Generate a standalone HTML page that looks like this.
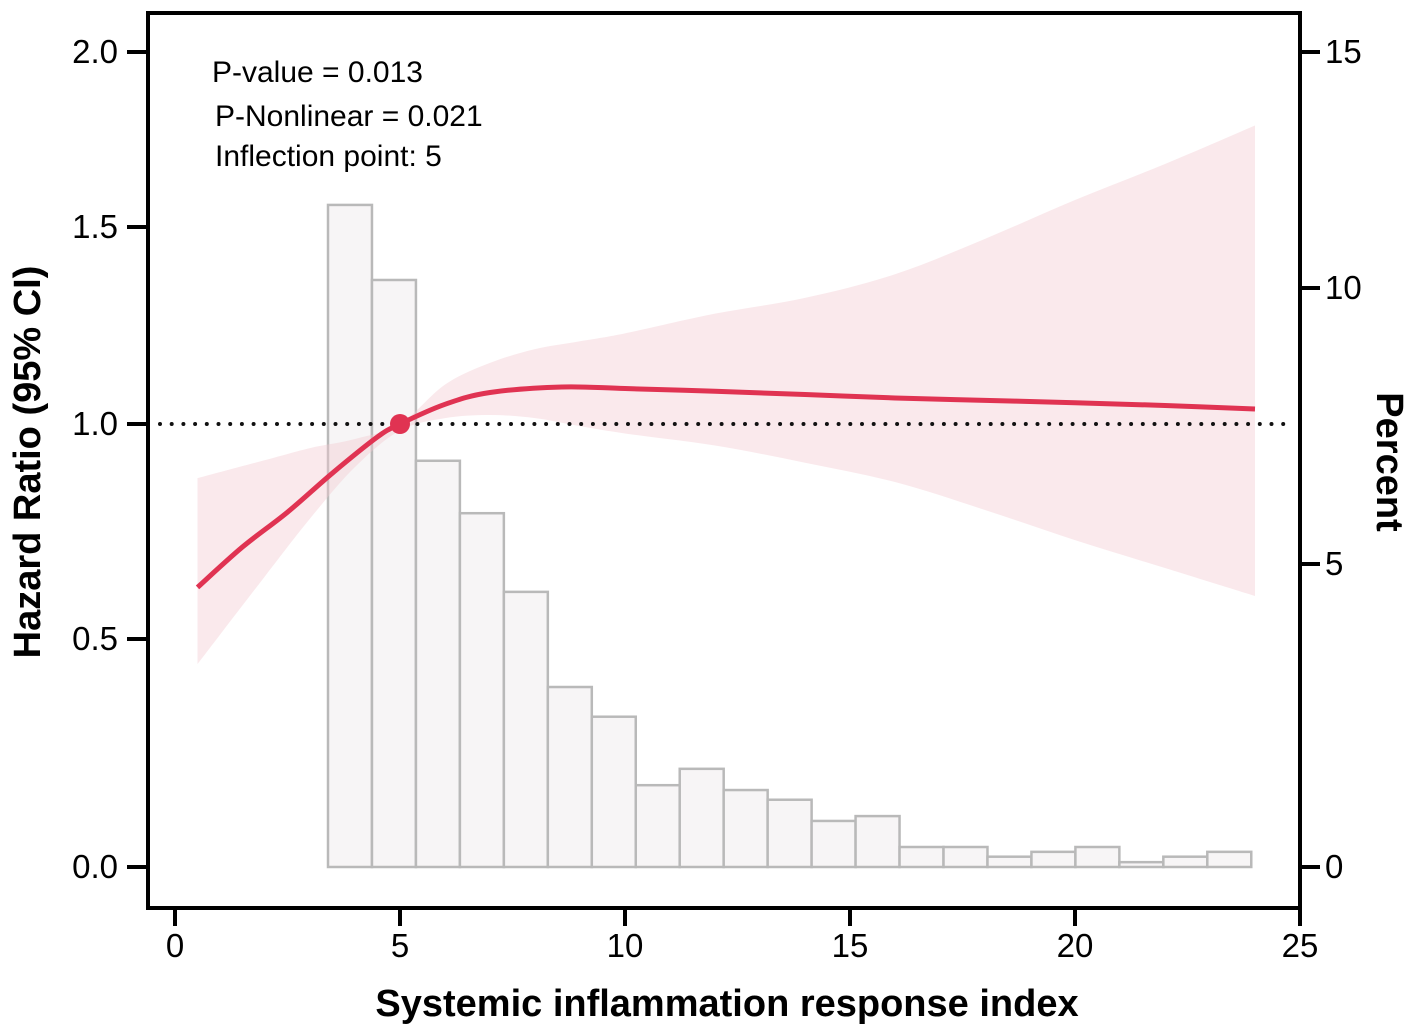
<!DOCTYPE html>
<html><head><meta charset="utf-8"><style>
html,body{margin:0;padding:0;background:#fff;}
svg text{font-family:"Liberation Sans",Arial,sans-serif;}
</style></head><body>
<svg id="chart" width="1417" height="1036" viewBox="0 0 1417 1036" xmlns="http://www.w3.org/2000/svg" style="position:absolute;left:0;top:0">
<g id="layers"></g>
<text x="212" y="82" font-size="30">P-value = 0.013</text>
<text x="215" y="126" font-size="30">P-Nonlinear = 0.021</text>
<text x="215" y="166" font-size="30">Inflection point: 5</text>
<text x="727" y="1016" font-size="38" font-weight="bold" text-anchor="middle">Systemic inflammation response index</text>
<text transform="translate(40,462) rotate(-90)" font-size="38" font-weight="bold" text-anchor="middle">Hazard Ratio (95% CI)</text>
<text transform="translate(1377,462) rotate(90)" font-size="38" font-weight="bold" text-anchor="middle">Percent</text>
</svg>
<script>
const hrTicks=[0,0.5,1,1.5,2];
const hrTickPx=[867,639,424,227,52];
const pctTicks=[0,5,10,15];
const pctTickPx=[867,564,288,52];
const xTicks=[0,5,10,15,20,25];
const barStart=3.4, barWidth=0.977;
const barPercents=[11.76,10.17,6.87,5.92,4.54,2.97,2.48,1.35,1.62,1.27,1.11,0.76,0.84,0.33,0.33,0.17,0.25,0.33,0.08,0.17,0.25];
const curveX=[0.5,1.5,2.5,3.5,4.5,5,6,7,8.6,10,12,14,16,18,20,22,24];
const curveHR=[0.62,0.714,0.795,0.886,0.97,1.0,1.05,1.08,1.094,1.09,1.083,1.075,1.066,1.06,1.054,1.047,1.038];
const bandX=[0.5,2,3,4,5,6,7,8,9,10,12,14,16,18,20,22,24];
const bandUpper=[0.874,0.916,0.944,0.965,1.0,1.10,1.155,1.19,1.21,1.23,1.28,1.32,1.38,1.47,1.577,1.68,1.79];
const bandLower=[0.445,0.646,0.78,0.90,0.985,1.015,1.023,1.015,0.995,0.978,0.95,0.91,0.865,0.80,0.73,0.665,0.60];
const inflection=[5,1.0];

function xs(v){return 175+45*v;}
function interp(v,ticks,px){
  for(let i=0;i<ticks.length-1;i++){
    if(v<=ticks[i+1]||i===ticks.length-2){
      return px[i]+(v-ticks[i])/(ticks[i+1]-ticks[i])*(px[i+1]-px[i]);
    }
  }
}
function yl(v){return interp(v,hrTicks,hrTickPx);}
function yr(v){return interp(v,pctTicks,pctTickPx);}

const NS="http://www.w3.org/2000/svg";
const root=document.getElementById('layers');
function mk(tag,attrs,parent){const e=document.createElementNS(NS,tag);for(const k in attrs)e.setAttribute(k,attrs[k]);(parent||root).appendChild(e);return e;}
function smooth(pts,start){
  let cd=start?('M'+pts[0].join(',')):(' L'+pts[0].join(','));
  for(let i=0;i<pts.length-1;i++){
    const p0=pts[Math.max(i-1,0)],p1=pts[i],p2=pts[i+1],p3=pts[Math.min(i+2,pts.length-1)];
    cd+=' C'+(p1[0]+(p2[0]-p0[0])/6)+','+(p1[1]+(p2[1]-p0[1])/6)+' '+(p2[0]-(p3[0]-p1[0])/6)+','+(p2[1]-(p3[1]-p1[1])/6)+' '+p2[0]+','+p2[1];
  }
  return cd;
}

const gb=mk('g',{});


barPercents.forEach((p,i)=>{
  const x0=xs(barStart+i*barWidth), x1=xs(barStart+(i+1)*barWidth);
  const r=mk('rect',{x:x0,y:yr(p),width:x1-x0,height:yr(0)-yr(p),fill:'#f7f5f6',stroke:'#b9b9b9','stroke-width':2.5},gb);
  
  
});
const up=bandX.map((x,i)=>[xs(x),yl(bandUpper[i])]);
const lo=bandX.map((x,i)=>[xs(x),yl(bandLower[i])]).reverse();
const band=mk('path',{d:smooth(up,true)+smooth(lo,false)+'Z',fill:'#f2c8d0','fill-opacity':0.4});


const ref=mk('line',{x1:160,x2:1290,y1:yl(1),y2:yl(1),stroke:'#111','stroke-width':4,'stroke-dasharray':'0 11.7','stroke-linecap':'round'});


const pts=curveX.map((x,i)=>[xs(x),yl(curveHR[i])]);
const curve=mk('path',{d:smooth(pts,true),fill:'none',stroke:'#e03352','stroke-width':5});


const dot=mk('circle',{cx:xs(inflection[0]),cy:yl(inflection[1]),r:10,fill:'#e03352'});


const fr=mk('rect',{x:148,y:13,width:1152,height:895,fill:'none',stroke:'#000','stroke-width':4});


hrTicks.forEach(v=>{
  mk('line',{x1:127,x2:148,y1:yl(v),y2:yl(v),stroke:'#000','stroke-width':4});
  const t=mk('text',{x:118,y:yl(v)+11,'font-size':33,'text-anchor':'end'});
  t.textContent=v.toFixed(1);
  
  
});
pctTicks.forEach(v=>{
  mk('line',{x1:1300,x2:1320,y1:yr(v),y2:yr(v),stroke:'#000','stroke-width':4});
  const t=mk('text',{x:1325,y:yr(v)+11,'font-size':33});
  t.textContent=v;
  
  
});
xTicks.forEach(v=>{
  mk('line',{x1:xs(v),x2:xs(v),y1:908,y2:926,stroke:'#000','stroke-width':4});
  const t=mk('text',{x:xs(v),y:957,'font-size':33,'text-anchor':'middle'});
  t.textContent=v;
  
  
});
</script>
</body></html>
